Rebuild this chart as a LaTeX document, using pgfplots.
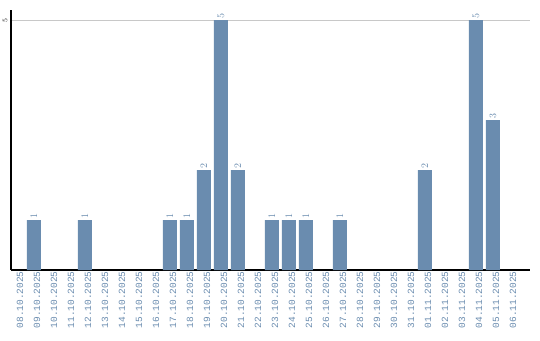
\documentclass[border=0pt]{standalone}
\usepackage{pgfplots}
\pgfplotsset{compat=1.18}
\usepackage{fontspec}
\setmainfont{Liberation Sans}
\newfontfamily\lblfont{Liberation Mono}
\definecolor{barc}{HTML}{6A8CAF}
\definecolor{gridc}{HTML}{C8C8C8}
\begin{document}
\begin{tikzpicture}[x=1bp,y=1bp]
\useasboundingbox (0,0) rectangle (540,340);
\begin{axis}[
  at={(11bp,70bp)}, anchor=south west,
  scale only axis, width=519bp, height=260bp,
  xmin=-0.353, xmax=30.18, ymin=0, ymax=5.2,
  axis x line*=bottom, axis y line*=left,
  axis line style={black, line width=1.2pt, -},
  xtick={0,...,29},
  xticklabels={08.10.2025,09.10.2025,10.10.2025,11.10.2025,12.10.2025,13.10.2025,14.10.2025,15.10.2025,16.10.2025,17.10.2025,18.10.2025,19.10.2025,20.10.2025,21.10.2025,22.10.2025,23.10.2025,24.10.2025,25.10.2025,26.10.2025,27.10.2025,28.10.2025,29.10.2025,30.10.2025,31.10.2025,01.11.2025,02.11.2025,03.11.2025,04.11.2025,05.11.2025,06.11.2025},
  xticklabel style={rotate=90, anchor=east, font=\lblfont\fontsize{9.5}{10}\selectfont, text=barc, xshift=2bp, yshift=-3bp},
  ytick={5},
  yticklabel style={rotate=90, font=\lblfont\fontsize{7.5}{7.5}\selectfont, anchor=south, xshift=-1bp},
  major tick length=0pt,
  ymajorgrids, grid style={gridc, line width=0.8pt},
  clip=false,
]
\addplot[ybar, bar width=14bp, fill=barc, draw=none,
  nodes near coords, every node near coord/.append style={rotate=90, anchor=west, font=\lblfont\fontsize{10}{10}\selectfont, text=barc, inner sep=1.5bp}]
 coordinates {(1,1) (4,1) (9,1) (10,1) (11,2) (12,5) (13,2) (15,1) (16,1) (17,1) (19,1) (24,2) (27,5) (28,3)};
\end{axis}
\end{tikzpicture}
\end{document}
